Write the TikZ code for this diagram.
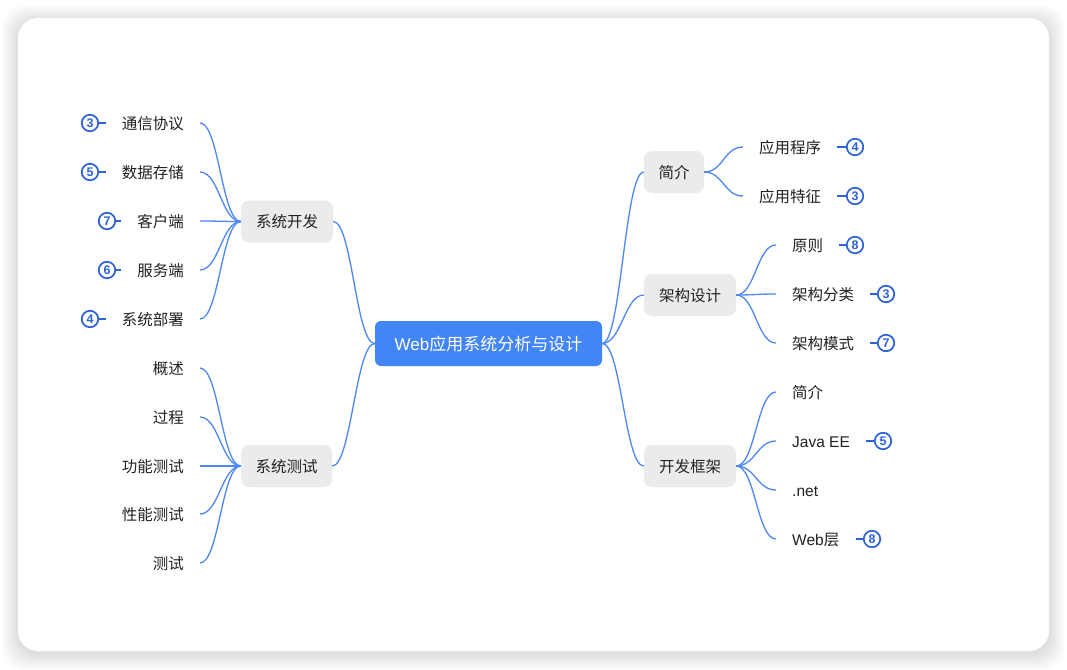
\documentclass[tikz,border=0pt]{standalone}
\usepackage{fontspec}
\setmainfont{Noto Sans CJK SC}
\newfontfamily\lat{Liberation Sans}
\definecolor{lineblue}{HTML}{4C87F2}
\definecolor{rootblue}{HTML}{4285F4}
\definecolor{badgeblue}{HTML}{2E62D9}
\definecolor{hubgray}{HTML}{EBEBEB}
\definecolor{txt}{HTML}{222222}
\begin{document}
\begin{tikzpicture}[x=1pt,y=-1pt,
 font=\fontsize{15.5}{18}\selectfont,
 root/.style={fill=rootblue, text=white, rounded corners=6pt, minimum width=227pt, minimum height=45pt, inner sep=0pt, text height=13pt, text depth=0pt, font=\fontsize{17}{20}\selectfont},
 hub/.style={fill=hubgray, text=txt, rounded corners=8pt, minimum height=42pt, inner sep=0pt, text height=12pt, text depth=0pt},
 leaf/.style={text=txt, inner xsep=16pt, inner ysep=2pt, text height=12pt, text depth=0pt},
 badge/.style={circle, draw=badgeblue, line width=1.7pt, fill=white, text=badgeblue, minimum size=16.5pt, inner sep=0pt, font=\lat\bfseries\fontsize{12.5}{12.5}\selectfont},
 stub/.style={draw=badgeblue, line width=1.6pt},
 link/.style={draw=lineblue, line width=1.3pt, to path={.. controls +(19,0) and +(-19,0) .. (\tikztotarget)}},
]
\useasboundingbox (0,0) rectangle (1067,669);
\fill[white] (0,0) rectangle (1067,669);
\foreach \r in {1,...,16}
  \fill[black, opacity=0.008, rounded corners=22pt] ({18-\r},{21-\r}) rectangle ({1049+\r},{654+\r});
\fill[white, rounded corners=20pt] (18,18) rectangle (1049,651);

% root and hubs
\node[root] (root) at (488.5,343.5) {{\lat Web}应用系统分析与设计};
\node[hub, minimum width=92pt] (dev) at (287,221.5) {系统开发};
\node[hub, minimum width=91pt] (test) at (286.5,466) {系统测试};
\node[hub, minimum width=60pt] (intro) at (674,172) {简介};
\node[hub, minimum width=92pt] (arch) at (690,295) {架构设计};
\node[hub, minimum width=92pt] (fw) at (690,466) {开发框架};

% left leaves: system development
\node[leaf, anchor=east] (l1) at (200,123) {通信协议};
\node[leaf, anchor=east] (l2) at (200,172) {数据存储};
\node[leaf, anchor=east] (l3) at (200,221) {客户端};
\node[leaf, anchor=east] (l4) at (200,270) {服务端};
\node[leaf, anchor=east] (l5) at (200,319) {系统部署};
% left leaves: system test
\node[leaf, anchor=east] (t1) at (200,368) {概述};
\node[leaf, anchor=east] (t2) at (200,417) {过程};
\node[leaf, anchor=east] (t3) at (200,466) {功能测试};
\node[leaf, anchor=east] (t4) at (200,514) {性能测试};
\node[leaf, anchor=east] (t5) at (200,563) {测试};
% right leaves
\node[leaf, anchor=west] (r1) at (743,147) {应用程序};
\node[leaf, anchor=west] (r2) at (743,196) {应用特征};
\node[leaf, anchor=west] (a1) at (776,245) {原则};
\node[leaf, anchor=west] (a2) at (776,294) {架构分类};
\node[leaf, anchor=west] (a3) at (776,343) {架构模式};
\node[leaf, anchor=west] (f1) at (776,392) {简介};
\node[leaf, anchor=west] (f2) at (776,441) {{\lat Java EE}};
\node[leaf, anchor=west] (f3) at (776,490) {{\lat .net}};
\node[leaf, anchor=west] (f4) at (776,539) {{\lat Web}层};

% connectors
\draw[link] (dev.east) to (root.west);
\draw[link] (test.east) to (root.west);
\draw[link] (root.east) to (intro.west);
\draw[link] (root.east) to (arch.west);
\draw[link] (root.east) to (fw.west);
\foreach \n in {l1,l2,l3,l4,l5} \draw[link] (\n.east) to (dev.west);
\foreach \n in {t1,t2,t3,t4,t5} \draw[link] (\n.east) to (test.west);
\foreach \n in {r1,r2} \draw[link] (intro.east) to (\n.west);
\foreach \n in {a1,a2,a3} \draw[link] (arch.east) to (\n.west);
\foreach \n in {f1,f2,f3,f4} \draw[link] (fw.east) to (\n.west);

% badges
\node[badge] (b1) at (90,123) {3};
\node[badge] (b2) at (90,172) {5};
\node[badge] (b3) at (107,221) {7};
\node[badge] (b4) at (107,270) {6};
\node[badge] (b5) at (90,319) {4};
\draw[stub] (b1.east) -- (l1.west);
\draw[stub] (b2.east) -- (l2.west);
\draw[stub] (b3.east) -- (l3.west);
\draw[stub] (b4.east) -- (l4.west);
\draw[stub] (b5.east) -- (l5.west);
\node[badge] (c1) at (855,147) {4};
\node[badge] (c2) at (855,196) {3};
\node[badge] (c3) at (855,245) {8};
\node[badge] (c4) at (886,294) {3};
\node[badge] (c5) at (886,343) {7};
\node[badge] (c6) at (883,441) {5};
\node[badge] (c7) at (872,539) {8};
\draw[stub] (r1.east) -- (c1.west);
\draw[stub] (r2.east) -- (c2.west);
\draw[stub] (a1.east) -- (c3.west);
\draw[stub] (a2.east) -- (c4.west);
\draw[stub] (a3.east) -- (c5.west);
\draw[stub] (f2.east) -- (c6.west);
\draw[stub] (f4.east) -- (c7.west);
\end{tikzpicture}
\end{document}
